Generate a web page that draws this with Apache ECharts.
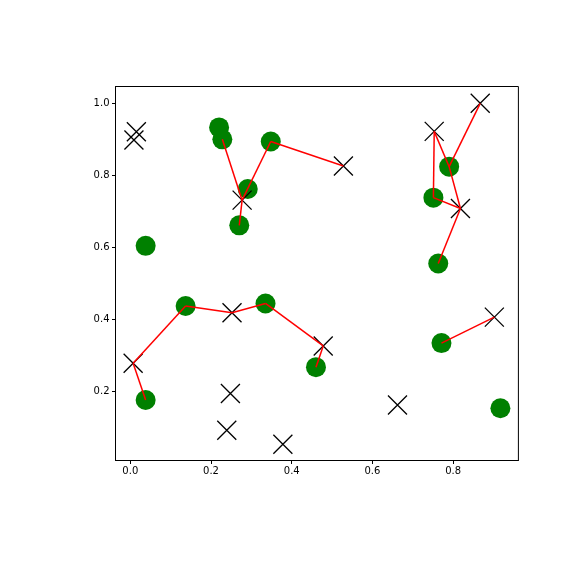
<!DOCTYPE html>
<html>
<head>
<meta charset="utf-8">
<script src="https://cdn.jsdelivr.net/npm/echarts@6/dist/echarts.min.js"></script>
<style>html,body{margin:0;padding:0;background:#fff;}#c{width:576px;height:576px;}</style>
</head>
<body>
<div id="c"></div>
<script>
// Green circle points [x, y]
const greenPoints = [
  [0.220, 0.933], [0.228, 0.900], [0.348, 0.894], [0.291, 0.762], [0.270, 0.661],
  [0.038, 0.604], [0.790, 0.824], [0.751, 0.738], [0.763, 0.555], [0.038, 0.176],
  [0.137, 0.437], [0.335, 0.444], [0.460, 0.267], [0.771, 0.334], [0.917, 0.153]
];
// Black X points [x, y]
const crossPoints = [
  [0.015, 0.921], [0.009, 0.898], [0.277, 0.731], [0.528, 0.826], [0.867, 1.000],
  [0.753, 0.922], [0.818, 0.708], [0.007, 0.278], [0.252, 0.418], [0.248, 0.194],
  [0.239, 0.092], [0.378, 0.053], [0.478, 0.326], [0.902, 0.406], [0.662, 0.162]
];
// Edges: [green index, cross index]
const edges = [
  [1, 2], [4, 2], [2, 2], [2, 3],
  [6, 5], [6, 4], [6, 6], [7, 5], [7, 6], [8, 6],
  [9, 7], [10, 7], [10, 8], [11, 8], [11, 12], [12, 12],
  [13, 13]
];
const xTicks = [0.0, 0.2, 0.4, 0.6, 0.8];
const yTicks = [0.2, 0.4, 0.6, 0.8, 1.0];

const chart = echarts.init(document.getElementById('c'), null, {renderer: 'canvas'});
const font = {fontFamily: 'DejaVu Sans', fontSize: 10, color: '#000'};
chart.setOption({
  animation: false,
  backgroundColor: '#fff',
  grid: {left: 115.5, right: 57.6, top: 86.5, bottom: 115.5, show: true, borderColor: '#000', borderWidth: 1, backgroundColor: 'transparent'},
  xAxis: {
    type: 'value', min: -0.0367, max: 0.9616,
    splitLine: {show: false},
    axisLine: {show: true, onZero: false, lineStyle: {color: '#000', width: 1}},
    axisTick: {show: true, length: 3.5, customValues: xTicks, lineStyle: {color: '#000', width: 1}},
    axisLabel: Object.assign({customValues: xTicks, margin: 6, formatter: v => v.toFixed(1)}, font)
  },
  yAxis: {
    type: 'value', min: 0.0078, max: 1.0467,
    splitLine: {show: false},
    axisLine: {show: true, onZero: false, lineStyle: {color: '#000', width: 1}},
    axisTick: {show: true, length: 3.5, customValues: yTicks, lineStyle: {color: '#000', width: 1}},
    axisLabel: Object.assign({customValues: yTicks, margin: 6, formatter: v => v.toFixed(1)}, font)
  },
  series: [
    {
      type: 'scatter', data: greenPoints, symbol: 'circle', symbolSize: 20, z: 2,
      itemStyle: {color: '#008000', opacity: 1}
    },
    {
      type: 'scatter', data: crossPoints, symbol: 'path://M0,0L10,10M10,0L0,10', symbolSize: 19, z: 3,
      itemStyle: {color: 'none', borderColor: '#000', borderWidth: 1.3, opacity: 1}
    },
    {
      type: 'lines', coordinateSystem: 'cartesian2d', z: 4,
      data: edges.map(e => ({coords: [greenPoints[e[0]], crossPoints[e[1]]]})),
      lineStyle: {color: '#ff0000', width: 1.5, opacity: 1, curveness: 0},
      symbol: 'none'
    }
  ]
});
</script>
</body>
</html>
